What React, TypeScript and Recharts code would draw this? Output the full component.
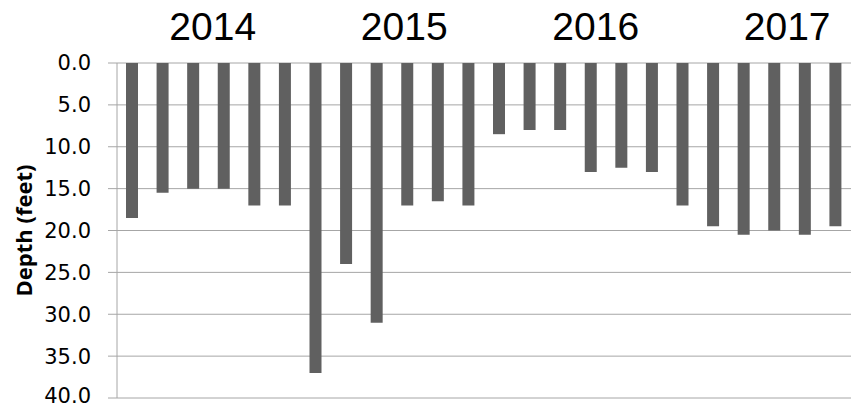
import { BarChart, Bar, XAxis, YAxis, CartesianGrid } from 'recharts';

const years = ['2014', '2015', '2016', '2017'];
const samples = ['S1', 'S2', 'S3', 'S4', 'S5', 'S6'];
const depths = [
  18.5, 15.5, 15.0, 15.0, 17.0, 17.0,
  37.0, 24.0, 31.0, 17.0, 16.5, 17.0,
  8.5, 8.0, 8.0, 13.0, 12.5, 13.0,
  17.0, 19.5, 20.5, 20.0, 20.5, 19.5,
];
const depthTicks = [0, 5, 10, 15, 20, 25, 30, 35, 40];

const perYear = samples.length;
const data = depths.map((depth, i) => ({
  name: `${years[Math.floor(i / perYear)]} ${samples[i % perYear]}`,
  depth,
}));
const yearTicks = years.map((_, i) => i * perYear + perYear / 2);

const gridColor = '#a6a6a6';

export default function App() {
  return (
    <div>
      <style>{'body { margin: 0; }'}</style>
      <BarChart
        width={852}
        height={408}
        data={data}
        margin={{ top: 13, right: 1, bottom: 10, left: 0 }}
        barSize={12}
      >
        <CartesianGrid xAxisId="cat" vertical={false} stroke={gridColor} />
        <XAxis xAxisId="cat" dataKey="name" hide />
        <XAxis
          xAxisId="year"
          orientation="top"
          type="number"
          domain={[0, depths.length]}
          ticks={yearTicks}
          allowDataOverflow
          height={50}
          axisLine={false}
          tickLine={false}
          tickSize={0}
          tickMargin={23}
          tickFormatter={(v: number) => years[Math.round((v - perYear / 2) / perYear)]}
          tick={{ fill: '#000', fontSize: 39, fontFamily: '"Liberation Sans", Arial, sans-serif' }}
        />
        <YAxis
          reversed
          domain={[0, 40]}
          ticks={depthTicks}
          width={117}
          stroke={gridColor}
          tickSize={9}
          tickMargin={17}
          tickFormatter={(v: number) => v.toFixed(1)}
          tick={{ fill: '#000', fontSize: 21, fontFamily: '"DejaVu Sans", sans-serif' }}
          label={{
            content: (props: any) => {
              const vb = props.viewBox;
              const cx = vb.x + 23;
              const cy = vb.y + vb.height / 2;
              return (
                <text
                  x={cx}
                  y={cy}
                  transform={`rotate(-90, ${cx}, ${cy})`}
                  textAnchor="middle"
                  dominantBaseline="central"
                  fontSize={22}
                  fontWeight="bold"
                  fontFamily='"Open Sans", sans-serif'
                  fill="#000"
                >
                  Depth (feet)
                </text>
              );
            },
          }}
        />
        <Bar xAxisId="cat" dataKey="depth" fill="#606060" isAnimationActive={false} />
      </BarChart>
    </div>
  );
}
